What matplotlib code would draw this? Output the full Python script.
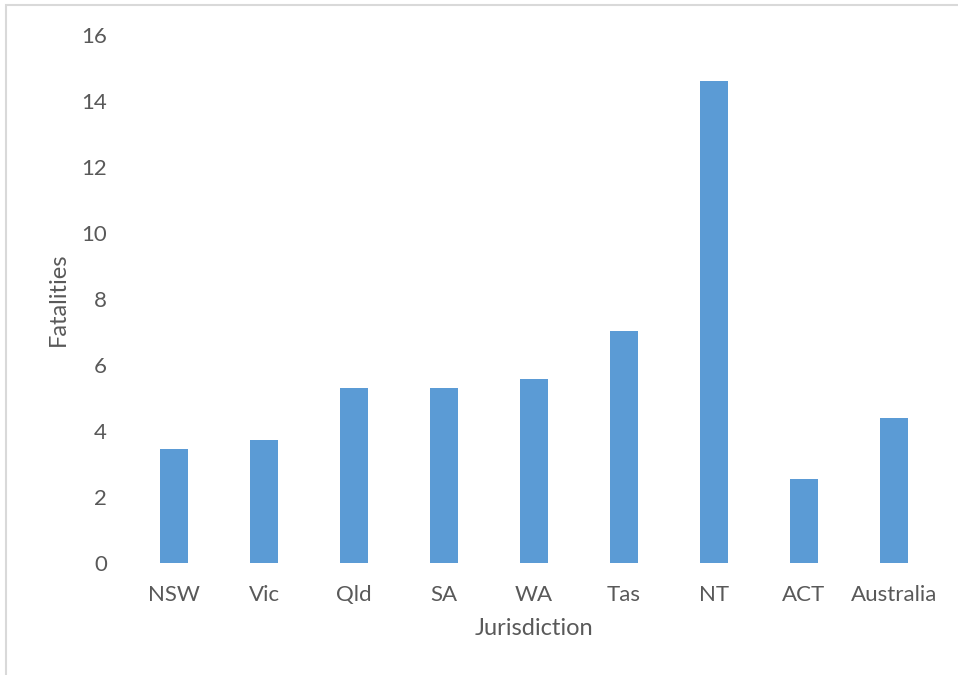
import numpy as np
import matplotlib
matplotlib.use('Agg')
import matplotlib.pyplot as plt
from matplotlib.patches import Rectangle

plt.rcParams['font.family'] = ['Lato', 'DejaVu Sans']

jurisdictions = ['NSW', 'Vic', 'Qld', 'SA', 'WA', 'Tas', 'NT', 'ACT', 'Australia']
fatalities = [3.45, 3.73, 5.31, 5.30, 5.58, 7.02, 14.6, 2.55, 4.41]
yticks = [0, 2, 4, 6, 8, 10, 12, 14, 16]

text_col = '#595959'
bar_col = '#5B9BD5'

fig = plt.figure(figsize=(9.58, 6.75), dpi=100)
ax = fig.add_axes([0.1347, 0.1659, 0.8455, 0.782])

x = np.arange(len(jurisdictions))
ax.bar(x, fatalities, width=0.31, color=bar_col)

ax.set_xlim(-0.5, len(jurisdictions) - 0.5)
ax.set_ylim(0, 16)
ax.set_xticks(x)
ax.set_xticklabels(jurisdictions)
ax.set_yticks(yticks)

for s in ax.spines.values():
    s.set_visible(False)
ax.tick_params(axis='both', length=0, labelsize=16, colors=text_col)
ax.tick_params(axis='y', pad=16)
ax.tick_params(axis='x', pad=16)

ax.set_xlabel('Jurisdiction', fontsize=17, color=text_col, labelpad=9)
ax.set_ylabel('Fatalities', fontsize=17, color=text_col, labelpad=9)

# thin grey frame around the chart area
fig.patches.append(Rectangle((6 / 958, -0.1), 2, 1 - 5 / 675 + 0.1,
                             transform=fig.transFigure, fill=False,
                             edgecolor='#d9d9d9', linewidth=1.5))

fig.savefig('out.png', dpi=100)
